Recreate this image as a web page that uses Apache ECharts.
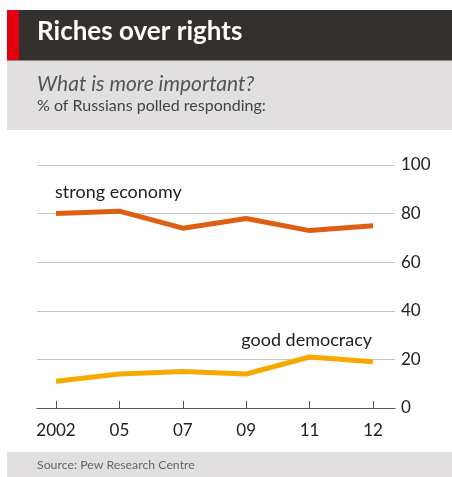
<!DOCTYPE html>
<html>
<head>
<meta charset="utf-8">
<script src="https://cdn.jsdelivr.net/npm/echarts@6/dist/echarts.min.js"></script>
<style>
html,body{margin:0;padding:0;background:#fff;}
#c{width:452px;height:477px;}
</style>
</head>
<body>
<div id="c"></div>
<script>
const categories = ['2002', '05', '07', '09', '11', '12'];
const strongEconomy = [80, 81, 74, 78, 73, 75];
const goodDemocracy = [11, 14, 15, 14, 21, 19];
const yTicks = [0, 20, 40, 60, 80, 100];

const FONT = 'Lato, "Open Sans", sans-serif';
const chart = echarts.init(document.getElementById('c'), null, {renderer: 'canvas'});

chart.setOption({
  animation: false,
  backgroundColor: '#fff',
  graphic: [
    {type: 'rect', shape: {x: 7, y: 10, width: 445, height: 50}, style: {fill: '#33302d'}},
    {type: 'rect', shape: {x: 7, y: 10, width: 12, height: 50}, style: {fill: '#e3000f'}},
    {type: 'rect', shape: {x: 7, y: 60, width: 445, height: 70}, style: {fill: '#e1dfe0'}},
    {type: 'rect', shape: {x: 7, y: 60, width: 445, height: 1}, style: {fill: '#8a8886'}},
    {type: 'rect', shape: {x: 7, y: 452, width: 445, height: 25}, style: {fill: '#e1dfe0'}},
    {type: 'text', left: 37, top: 19, style: {text: 'Riches over rights', fill: '#fff', font: 'bold 26px ' + FONT}},
    {type: 'text', left: 37, top: 74, style: {text: 'What is more important?', fill: '#555', font: 'italic 21px ' + FONT}},
    {type: 'text', left: 37, top: 98, style: {text: '% of Russians polled responding:', fill: '#444', font: '16px ' + FONT}},
    {type: 'text', left: 37, top: 459, style: {text: 'Source: Pew Research Centre', fill: '#666', font: '12.3px ' + FONT}},
    {type: 'text', left: 55, top: 183, style: {text: 'strong economy', fill: '#222', font: '18px ' + FONT}},
    {type: 'text', right: 80, top: 331, style: {text: 'good democracy', fill: '#222', font: '18px ' + FONT}}
  ],
  grid: [
    {left: 37, right: 57, top: 165, bottom: 69},
    {left: 56, right: 79, top: 165, bottom: 69}
  ],
  xAxis: [
    {gridIndex: 0, type: 'value', min: 0, max: 1, show: true,
     axisLine: {show: true, lineStyle: {color: '#555', width: 1}},
     axisTick: {show: false}, axisLabel: {show: false}, splitLine: {show: false}},
    {gridIndex: 1, type: 'category', data: categories, boundaryGap: false,
     axisLine: {show: false},
     axisTick: {show: true, inside: true, length: 7, lineStyle: {color: '#555', width: 1}},
     axisLabel: {fontSize: 17, color: '#222', margin: 14, fontFamily: FONT},
     splitLine: {show: false}}
  ],
  yAxis: [
    {gridIndex: 0, type: 'value', min: yTicks[0], max: yTicks[yTicks.length - 1], interval: 20, position: 'right',
     axisLine: {show: false}, axisTick: {show: false},
     axisLabel: {fontSize: 17, color: '#222', margin: 6, fontFamily: FONT},
     splitLine: {show: true, lineStyle: {color: '#c8c8c8', width: 1}}},
    {gridIndex: 1, type: 'value', min: yTicks[0], max: yTicks[yTicks.length - 1], interval: 20, show: false}
  ],
  series: [
    {type: 'line', name: 'strong economy', xAxisIndex: 1, yAxisIndex: 1, data: strongEconomy,
     showSymbol: false, lineStyle: {color: '#df5f12', width: 5}, z: 3},
    {type: 'line', name: 'good democracy', xAxisIndex: 1, yAxisIndex: 1, data: goodDemocracy,
     showSymbol: false, lineStyle: {color: '#f8a900', width: 5}, z: 3}
  ]
});
</script>
</body>
</html>
